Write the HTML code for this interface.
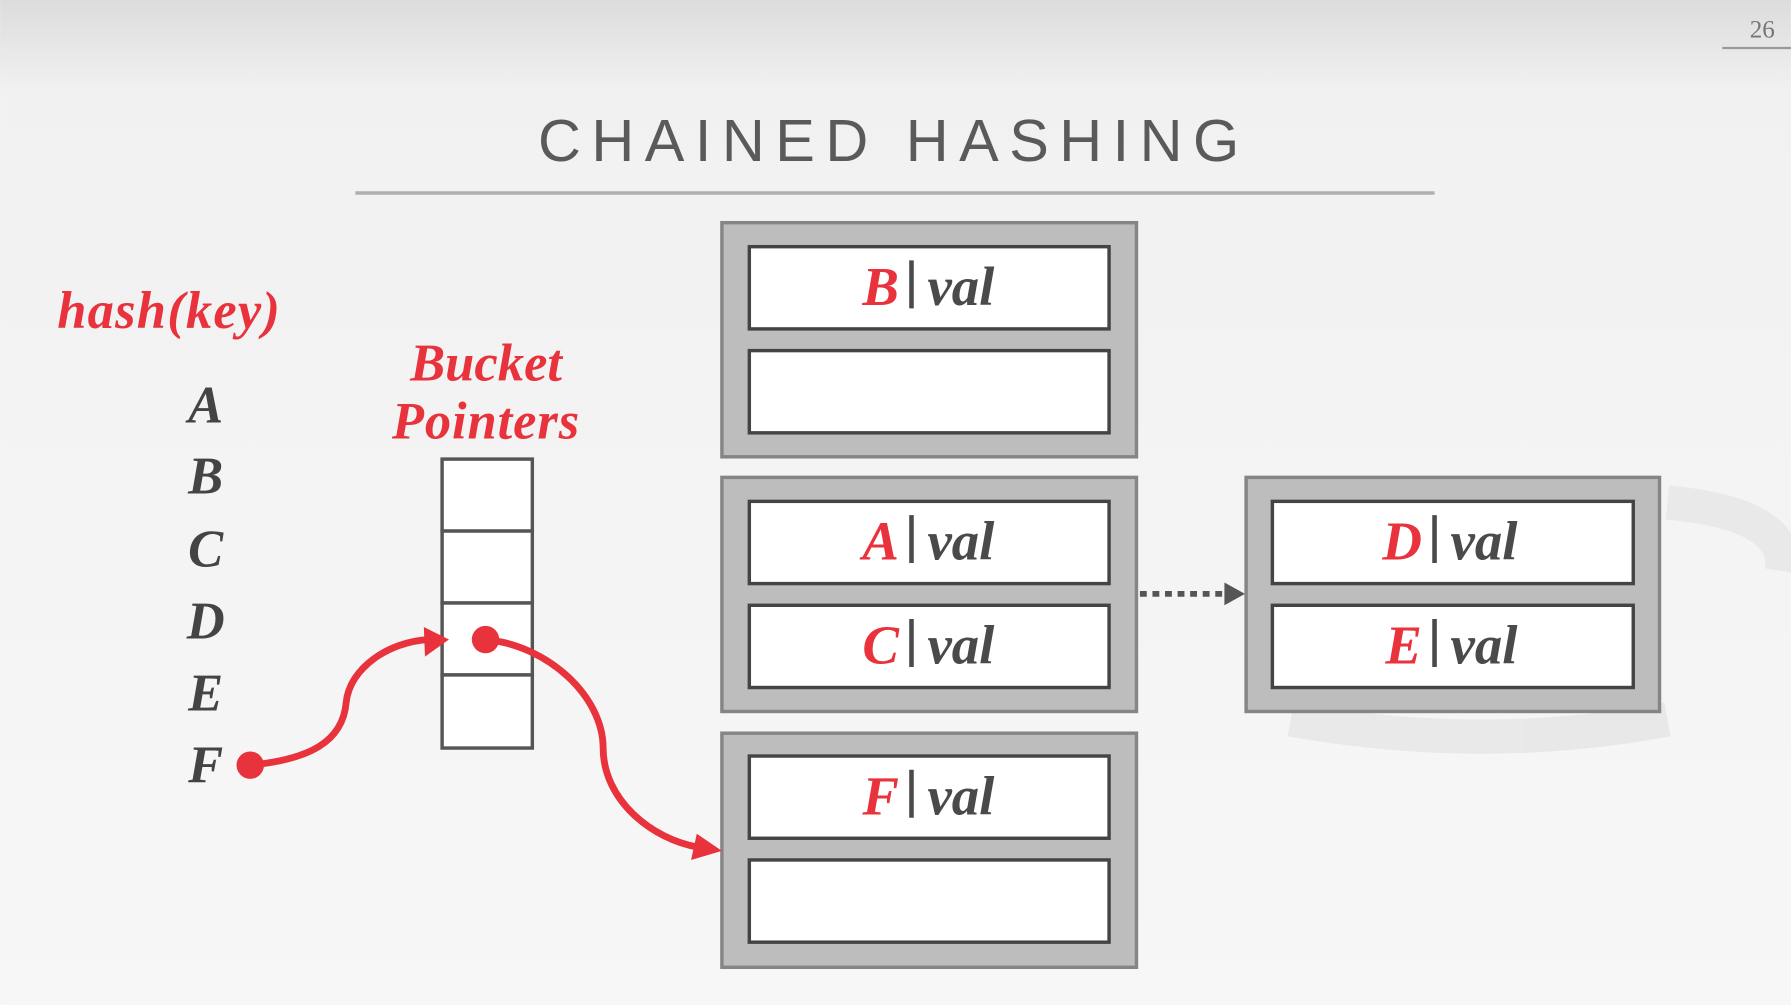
<!DOCTYPE html>
<html><head><meta charset="utf-8"><style>
html,body{margin:0;padding:0;width:1791px;height:1005px;overflow:hidden;background:#f4f4f4}
svg{display:block}
</style></head><body>
<svg width="1791" height="1005" viewBox="0 0 1568 880" xmlns="http://www.w3.org/2000/svg">
<defs>
<linearGradient id="bg" x1="0" y1="0" x2="0" y2="1">
<stop offset="0" stop-color="#dcdcdc"/><stop offset="0.09" stop-color="#f1f1f1"/><stop offset="1" stop-color="#f7f7f7"/>
</linearGradient>
</defs>
<rect width="1568" height="880" fill="url(#bg)"/>
<g fill="none" stroke="#e6e6e6" stroke-width="30" opacity="0.8">
<path d="M1460 440 Q1568 450 1560 500"/>
<path d="M1130 630 Q1300 660 1460 630"/>
</g>
<text x="1543" y="33" font-family="Liberation Serif,serif" font-size="22" fill="#777" text-anchor="middle">26</text>
<line x1="1508" y1="42" x2="1568" y2="42" stroke="#999" stroke-width="2"/>
<text x="471" y="141" textLength="622" font-family="Liberation Sans,sans-serif" font-size="52" fill="#5a5a5a" letter-spacing="8">CHAINED HASHING</text>
<line x1="311" y1="169" x2="1256" y2="169" stroke="#b0b0b0" stroke-width="3"/>
<g font-family="Liberation Serif,serif" font-style="italic" font-weight="bold">
<text x="50" y="287" textLength="195" font-size="46" fill="#e8323c">hash(key)</text>
<text x="359" y="333" textLength="133" font-size="46" fill="#e8323c">Bucket</text>
<text x="343" y="384" textLength="164" font-size="46" fill="#e8323c">Pointers</text>
<g font-size="46" fill="#444" text-anchor="middle">
<text x="180" y="370">A</text><text x="180" y="432">B</text><text x="180" y="496">C</text>
<text x="180" y="559">D</text><text x="180" y="622">E</text><text x="180" y="685">F</text>
</g>
</g>
<g fill="#fff" stroke="#555" stroke-width="3">
<rect x="387" y="402" width="79" height="63"/><rect x="387" y="465" width="79" height="63"/>
<rect x="387" y="528" width="79" height="63"/><rect x="387" y="591" width="79" height="64"/>
</g>
<g fill="#bdbdbd" stroke="#858585" stroke-width="3">
<rect x="632" y="195" width="363" height="205"/>
<rect x="632" y="418" width="363" height="205"/>
<rect x="632" y="642" width="363" height="205"/>
<rect x="1091" y="418" width="362" height="205"/>
</g>
<g fill="#fff" stroke="#444" stroke-width="3">
<rect x="656" y="216" width="315" height="72"/><rect x="656" y="307" width="315" height="72"/>
<rect x="656" y="439" width="315" height="72"/><rect x="656" y="530" width="315" height="72"/>
<rect x="656" y="662" width="315" height="72"/><rect x="656" y="753" width="315" height="72"/>
<rect x="1114" y="439" width="316" height="72"/><rect x="1114" y="530" width="316" height="72"/>
</g>
<g font-family="Liberation Serif,serif" font-style="italic" font-weight="bold" font-size="48">
<text x="787" y="267" fill="#e8323c" text-anchor="end">B</text>
<text x="787" y="490" fill="#e8323c" text-anchor="end">A</text>
<text x="787" y="581" fill="#e8323c" text-anchor="end">C</text>
<text x="787" y="713" fill="#e8323c" text-anchor="end">F</text>
<text x="1245" y="490" fill="#e8323c" text-anchor="end">D</text>
<text x="1245" y="581" fill="#e8323c" text-anchor="end">E</text>
<g fill="#4a4a4a">
<text x="812" y="267">val</text><text x="812" y="490">val</text><text x="812" y="581">val</text><text x="812" y="713">val</text>
<text x="1270" y="490">val</text><text x="1270" y="581">val</text>
</g>
</g>
<g stroke="#4a4a4a" stroke-width="4">
<line x1="798" y1="228" x2="798" y2="270"/><line x1="798" y1="451" x2="798" y2="493"/>
<line x1="798" y1="542" x2="798" y2="584"/><line x1="798" y1="674" x2="798" y2="716"/>
<line x1="1256" y1="451" x2="1256" y2="493"/><line x1="1256" y1="542" x2="1256" y2="584"/>
</g>
<line x1="998" y1="520" x2="1072" y2="520" stroke="#555" stroke-width="5" stroke-dasharray="6,5"/>
<polygon points="1072,510 1090,520 1072,530" fill="#555"/>
<g fill="none" stroke="#e8323c" stroke-width="6">
<path d="M219 670 C270 665 300 650 303 615 C306 585 340 562 375 560"/>
<path d="M425 560 C480 565 528 610 528 655 C528 700 570 735 612 742"/>
</g>
<g fill="#e8323c">
<circle cx="219" cy="670" r="12"/><circle cx="425" cy="560" r="12"/>
<polygon points="371,549 393,560 372,575"/>
<polygon points="610,730 632,745 605,753"/>
</g>
</svg>
</body></html>
